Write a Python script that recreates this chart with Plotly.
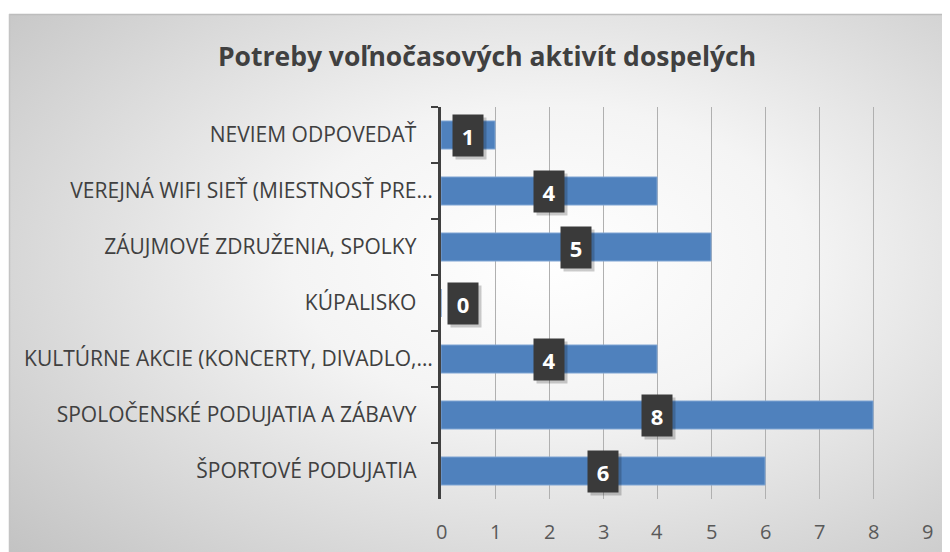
import base64
import plotly.graph_objects as go

title = "Potreby voľnočasových aktivít dospelých"
categories = [
    "NEVIEM ODPOVEDAŤ",
    "VEREJNÁ WIFI SIEŤ (MIESTNOSŤ PRE…",
    "ZÁUJMOVÉ ZDRUŽENIA, SPOLKY",
    "KÚPALISKO",
    "KULTÚRNE AKCIE (KONCERTY, DIVADLO,…",
    "SPOLOČENSKÉ PODUJATIA A ZÁBAVY",
    "ŠPORTOVÉ PODUJATIA",
]
values = [1, 4, 5, 0, 4, 8, 6]
x_ticks = list(range(0, 10))
x_tick_text = [str(t) for t in x_ticks]

FONT = "Open Sans"

# display labels: non-truncated ones have trailing padding like the original
display = [c if c.endswith("…") else c + "\u00a0\u00a0\u00a0" for c in categories]

# page body has an 8px margin -> figure origin sits at window (8, 8)
OFF = 8
W, H = 950 - OFF, 552 - OFF
L, R, T, B = 441 - OFF, 23, 107 - OFF, 53
pw, ph = W - L - R, H - T - B

svg = """<svg xmlns='http://www.w3.org/2000/svg' width='1000' height='600' preserveAspectRatio='none' viewBox='0 0 1000 600'>
<defs><radialGradient id='g' cx='0.55' cy='0.42' r='0.75' fx='0.55' fy='0.42'>
<stop offset='0' stop-color='#ffffff'/><stop offset='0.35' stop-color='#f4f4f4'/><stop offset='1' stop-color='#c2c2c2'/>
</radialGradient></defs>
<rect x='0' y='0' width='1000' height='600' fill='url(#g)'/>
</svg>"""
src = "data:image/svg+xml;base64," + base64.b64encode(svg.encode()).decode()

def px_to_paper_x(px):  # px in window coords
    return (px - OFF - L) / pw

def px_to_paper_y(py):
    return (H - B - (py - OFF)) / ph

fig = go.Figure()
fig.add_trace(go.Bar(
    y=display, x=values, orientation="h",
    marker=dict(color="#4F81BD", line=dict(color="#7EA4D3", width=1)),
    hoverinfo="skip",
))

annotations = []
for cat, v in zip(display, values):
    xa = v / 2 if v > 0 else 0
    anchor = "center" if v > 0 else "left"
    xs = 0 if v > 0 else 6
    # shadow
    annotations.append(dict(x=xa, y=cat, xref="x", yref="y", text=" ", showarrow=False,
                            xanchor=anchor, xshift=xs + 3, yshift=-3, width=30, height=41,
                            bgcolor="rgba(0,0,0,0.2)", borderpad=0))
    annotations.append(dict(x=xa, y=cat, xref="x", yref="y", text=f"<b>{v}</b>", showarrow=False,
                            xanchor=anchor, xshift=xs, width=30, height=41,
                            bgcolor="#3a3a3a", borderpad=0,
                            font=dict(family=FONT, size=22, color="white")))

# x-axis tick labels drawn as annotations anchored to the x data coordinates
for t, lbl in zip(x_ticks, x_tick_text):
    annotations.append(dict(x=t, y=0, xref="x", yref="paper", text=lbl, showarrow=False,
                            xanchor="center", yanchor="middle", yshift=-(531 - 499),
                            font=dict(family=FONT, size=20, color="#595959")))

fig.update_layout(
    width=W, height=H,
    margin=dict(l=L, r=R, t=T, b=B),
    paper_bgcolor="white",
    plot_bgcolor="rgba(0,0,0,0)",
    bargap=0.5,
    showlegend=False,
    title=dict(text=f"<b>{title}</b>", x=(487 - OFF) / W, xanchor="center",
               y=1 - (57 - OFF) / H, yanchor="middle",
               font=dict(family=FONT, size=26.5, color="#404040")),
    images=[dict(source=src, xref="paper", yref="paper",
                 x=px_to_paper_x(9), y=px_to_paper_y(14),
                 sizex=(W + 40) / pw, sizey=(H + 40) / ph,
                 xanchor="left", yanchor="top", sizing="stretch", layer="below")],
    shapes=[dict(type="line", xref="paper", yref="paper",
                 x0=px_to_paper_x(9), x1=px_to_paper_x(990),
                 y0=px_to_paper_y(14.5), y1=px_to_paper_y(14.5),
                 line=dict(color="#bdbdbd", width=1.5)),
            dict(type="line", xref="paper", yref="paper",
                 x0=px_to_paper_x(9.5), x1=px_to_paper_x(9.5),
                 y0=px_to_paper_y(14), y1=px_to_paper_y(600),
                 line=dict(color="#c4c4c4", width=1.5))],
    annotations=annotations,
    xaxis=dict(range=[0, 9], tickvals=x_ticks, showgrid=True, gridcolor="#b0b0b0", gridwidth=1,
               zeroline=False, showline=False, ticks="", showticklabels=False, fixedrange=True),
    yaxis=dict(type="category", autorange="reversed", showline=True, linecolor="#404040", linewidth=3,
               ticks="outside", tickson="boundaries", ticklen=7, tickwidth=2, tickcolor="#404040",
               tickfont=dict(family=FONT, size=21, color="#404040"), ticklabelstandoff=1,
               showgrid=False, fixedrange=True),
)

fig.write_html("out.html")
